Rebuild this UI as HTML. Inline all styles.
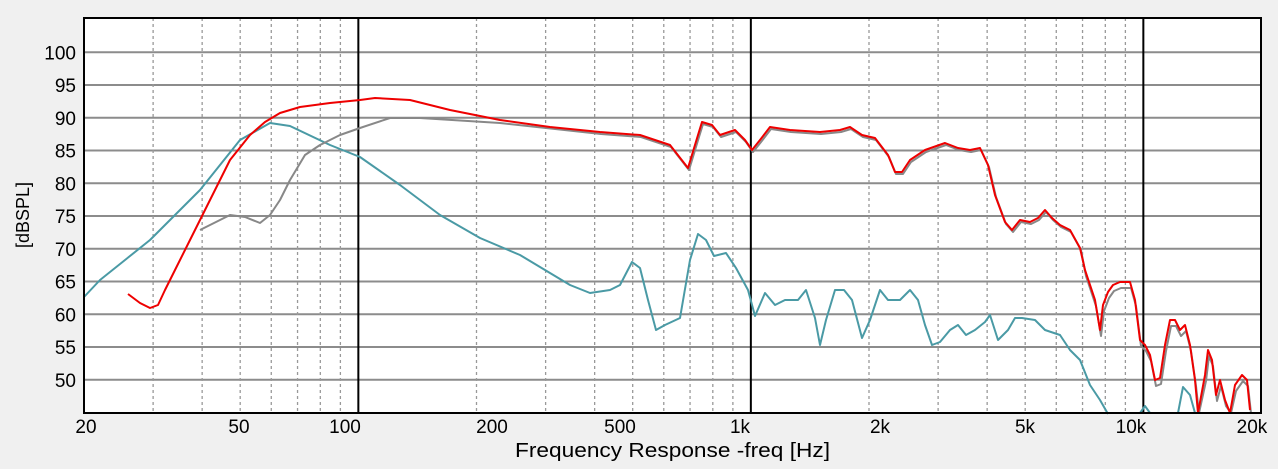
<!DOCTYPE html><html><head><meta charset="utf-8"><style>
html,body{margin:0;padding:0;background:#f0f0f0;}
svg{display:block;font-family:"Liberation Sans",sans-serif;}
</style></head><body>
<svg width="1278" height="469" viewBox="0 0 1278 469">
<rect x="84" y="18" width="1177" height="395" fill="#fff"/>
<g id="grid"></g>
<g id="curves"></g>
<rect x="84" y="18" width="1177" height="395" fill="none" stroke="#000" stroke-width="2"/>
<g font-size="19" fill="#000" id="ylab" text-anchor="end"></g>
<g font-size="19" fill="#000" text-anchor="middle">
<text x="86" y="433">20</text><text x="239" y="433">50</text><text x="345" y="433">100</text>
<text x="492" y="433">200</text><text x="620" y="433">500</text><text x="740" y="433">1k</text>
<text x="880" y="433">2k</text><text x="1025" y="433">5k</text><text x="1131" y="433">10k</text>
<text x="1252" y="433">20k</text>
</g>
<text x="515" y="457" font-size="20" textLength="315" lengthAdjust="spacingAndGlyphs">Frequency Response -freq [Hz]</text>
<text font-size="18" transform="translate(29,215) rotate(-90)" text-anchor="middle">[dBSPL]</text>
</svg>
<script>
const NS="http://www.w3.org/2000/svg";
function el(t,a,p){const e=document.createElementNS(NS,t);for(const k in a)e.setAttribute(k,a[k]);document.getElementById(p).appendChild(e);return e;}
const X=f=>84+392.5*Math.log10(f/20), Y=d=>52.3+(100-d)*6.55;
for(let d=50;d<=100;d+=5){el('line',{x1:84,x2:1261,y1:Y(d),y2:Y(d),stroke:'#8c8c8c','stroke-width':2},'grid');
 const t=el('text',{x:76,y:Y(d)+7},'ylab');t.textContent=d;}
[30,40,50,60,70,80,90,200,300,400,500,600,700,800,900,2000,3000,4000,5000,6000,7000,8000,9000].forEach(f=>
 el('line',{x1:X(f),x2:X(f),y1:18,y2:413,stroke:'#999','stroke-dasharray':'3,3','stroke-width':1.3},'grid'));
[100,1000,10000].forEach(f=>el('line',{x1:X(f),x2:X(f),y1:18,y2:413,stroke:'#000','stroke-width':2},'grid'));
const teal=[[84,297],[100,280],[150,240],[200,190],[240,140],[270,123],[290,126],[330,145],[360,157],[400,185],[440,215],[480,238],[520,255],[570,285],[590,293],[610,290],[620,285],[632,262],[640,268],[648,300],[656,330],[665,325],[680,318],[690,260],[698,234],[706,240],[714,256],[726,253],[736,268],[748,290],[755,316],[765,293],[775,305],[785,300],[798,300],[806,290],[815,318],[820,345],[826,320],[835,290],[844,290],[852,300],[862,338],[870,320],[880,290],[888,300],[900,300],[910,290],[918,300],[925,325],[932,345],[940,342],[950,330],[958,325],[966,335],[975,330],[985,322],[990,315],[998,340],[1008,330],[1015,318],[1022,318],[1035,320],[1045,330],[1060,335],[1070,350],[1080,360],[1090,385],[1100,400],[1108,414]];
const red=[[128,294],[140,303],[150,308],[158,305],[165,290],[175,270],[190,240],[210,200],[230,160],[250,135],[265,122],[280,113],[300,107],[330,103],[360,100],[375,98],[410,100],[450,110],[500,120],[550,127],[600,132],[640,135],[670,145],[688,168],[698,135],[702,122],[712,125],[720,135],[735,130],[745,140],[752,150],[760,140],[770,127],[790,130],[820,132],[840,130],[850,127],[862,135],[875,138],[888,155],[895,172],[902,172],[910,160],[925,150],[945,143],[958,148],[970,150],[980,148],[988,165],[995,195],[1005,222],[1012,230],[1020,220],[1030,222],[1038,218],[1045,210],[1052,218],[1060,225],[1070,230],[1080,248],[1085,270],[1090,285],[1095,300],[1100,330],[1103,305],[1108,292],[1113,285],[1120,282],[1130,282],[1135,300],[1140,340],[1145,345],[1150,355],[1155,380],[1160,378],[1165,345],[1170,320],[1175,320],[1180,330],[1185,325],[1190,345],[1195,380],[1198,413],[1205,375],[1208,350],[1212,360],[1216,395],[1220,380],[1225,400],[1230,413],[1235,385],[1242,375],[1247,380],[1250,410]];
let grey=[[200,230],[230,215],[245,217],[260,223],[270,215],[280,200],[290,180],[305,155],[320,145],[340,135],[360,128],[390,118],[420,118],[500,123]];
red.filter(p=>p[0]>=600).forEach(p=>grey.push([p[0]+1,Math.min(413,p[1]+(p[0]>1080?6:2))]));
const pl=(pts,c)=>el('polyline',{points:pts.map(p=>p.join(',')).join(' '),fill:'none',stroke:c,'stroke-width':2,'stroke-linejoin':'round'},'curves');
pl(teal,'#4a9aa5');pl([[1140,413],[1145,406],[1150,413]],'#4a9aa5');pl([[1178,413],[1183,387],[1190,395],[1195,413]],'#4a9aa5');
pl(grey,'#888');pl(red,'#e00');
</script>
</body></html>
